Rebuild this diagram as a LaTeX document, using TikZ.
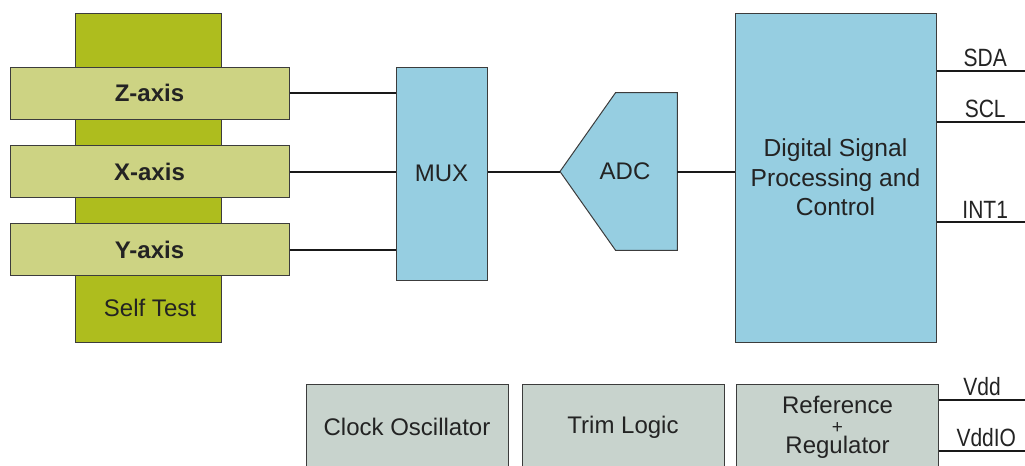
\documentclass[tikz,border=0pt]{standalone}
\usepackage{fontspec}
\setmainfont{Liberation Sans}
\newfontfamily\pinfont[FakeStretch=0.84]{Liberation Sans}
\definecolor{stgreen}{RGB}{174,189,30}
\definecolor{axisgreen}{RGB}{205,211,131}
\definecolor{blockblue}{RGB}{150,206,225}
\definecolor{blockgray}{RGB}{200,211,205}
\definecolor{rim}{RGB}{60,60,60}
\definecolor{ink}{RGB}{35,35,35}
\tikzset{
        every node/.style={text=ink, font=\fontsize{12}{14.5}\selectfont},
        box/.style={draw=rim, line width=0.5pt, inner sep=0pt},
        selftest/.style={box, fill=stgreen, minimum width=73pt, minimum height=164.5pt},
        sensor/.style={box, fill=axisgreen, minimum width=139.5pt, minimum height=26pt, font=\fontsize{12}{14.5}\selectfont\bfseries},
        block/.style={box, fill=blockblue, align=center},
        aux/.style={box, fill=blockgray, align=center, minimum width=101pt, minimum height=43pt},
        wire/.style={draw=black!90, line width=1pt},
        pin/.style={above, inner sep=1.5pt, font=\fontsize{12.5}{14}\pinfont}
          }
\begin{document}
\begin{tikzpicture}[x=0.5pt, y=-0.5pt]
        \useasboundingbox (0,0) rectangle (1025,466);
        \clip (0,0) rectangle (1025,466);
        \node[selftest] (st) at (148,177.5) {};
        \node (stlabel) at (150,308) {Self Test};
        \node[sensor] (z) at (149.5,93) {Z-axis};
        \node[sensor] (x) at (149.5,171.5) {X-axis};
        \node[sensor] (y) at (149.5,249.5) {Y-axis};
        \node[block, minimum width=45.5pt, minimum height=106.5pt] (mux) at (441.5,173.5) {MUX};
        \coordinate (adctip) at (560,171.5);
        \node[inner sep=0pt, minimum width=30.5pt, minimum height=78.5pt] (adc) at (646.5,171.5) {};
        \filldraw[box, fill=blockblue] (adc.north east) -- (adc.south east) -- (adc.south west)
          -- (adctip) -- (adc.north west) -- cycle;
        \node (adclabel) at (625,171.5) {ADC};
        \node[block, minimum width=100.5pt, minimum height=164.5pt, font=\fontsize{12.3}{14.75}\selectfont] (dsp) at (835.5,177.5)
          {Digital Signal\\Processing and\\Control};
        \node[aux] (clk) at (407,427) {Clock Oscillator};
        \node[aux] (trim) at (623,427) {Trim Logic};
        \node[aux, font=\fontsize{12}{10}\selectfont] (ref) at (837.5,427)
          {Reference\\{\fontsize{9.5}{10}\selectfont +}\\Regulator};
        \draw[wire] (z.east) -- (z.east -| mux.west);
        \draw[wire] (x.east) -- (x.east -| mux.west);
        \draw[wire] (y.east) -- (y.east -| mux.west);
        \draw[wire] (mux.east |- adctip) -- (adctip);
        \draw[wire] (adc.east) -- (adc.east -| dsp.west);
        \coordinate (sda) at (1025,71);
        \coordinate (scl) at (1025,121.5);
        \coordinate (int) at (1025,222);
        \coordinate (vdd) at (1025,400);
        \coordinate (vddio) at (1025,451);
        \draw[wire] (dsp.east |- sda) -- (sda) node[pin, pos=0.55] {SDA};
        \draw[wire] (dsp.east |- scl) -- (scl) node[pin, pos=0.55] {SCL};
        \draw[wire] (dsp.east |- int) -- (int) node[pin, pos=0.55] {INT1};
        \draw[wire] (ref.east |- vdd) -- (vdd) node[pin, pos=0.5] {Vdd};
        \draw[wire] (ref.east |- vddio) -- (vddio) node[pin, pos=0.55] {VddIO};
      \end{tikzpicture}
\end{document}
